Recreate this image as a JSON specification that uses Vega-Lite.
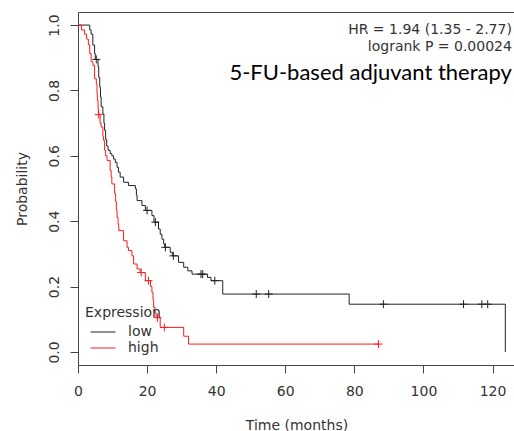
{
  "$schema": "https://vega.github.io/schema/vega-lite/v6.json",
  "width": 437,
  "height": 353,
  "autosize": {"type": "none"},
  "padding": {"left": 78, "top": 12, "right": 0, "bottom": 66},
  "background": "white",
  "config": {
    "view": {"stroke": "#444", "strokeWidth": 1},
    "font": "DejaVu Sans",
    "axis": {"grid": false, "domain": false, "labelFlush": false, "labelOverlap": false, "tickColor": "#444", "tickSize": 8, "labelFont": "DejaVu Sans", "labelFontSize": 14, "labelColor": "#333", "titleFont": "DejaVu Sans", "titleFontSize": 14, "titleFontWeight": "normal", "titleColor": "#333"}
  },
  "datasets": {
    "curves": [
      {"t": 0, "S": 1.0, "group": "low"},
      {"t": 3.4, "S": 0.985, "group": "low"},
      {"t": 3.8, "S": 0.972, "group": "low"},
      {"t": 4.3, "S": 0.939, "group": "low"},
      {"t": 4.8, "S": 0.913, "group": "low"},
      {"t": 5.0, "S": 0.895, "group": "low"},
      {"t": 5.8, "S": 0.872, "group": "low"},
      {"t": 6.0, "S": 0.84, "group": "low"},
      {"t": 6.3, "S": 0.81, "group": "low"},
      {"t": 6.5, "S": 0.78, "group": "low"},
      {"t": 6.7, "S": 0.75, "group": "low"},
      {"t": 7.2, "S": 0.728, "group": "low"},
      {"t": 7.5, "S": 0.70, "group": "low"},
      {"t": 7.7, "S": 0.678, "group": "low"},
      {"t": 8.0, "S": 0.65, "group": "low"},
      {"t": 8.3, "S": 0.63, "group": "low"},
      {"t": 8.7, "S": 0.617, "group": "low"},
      {"t": 9.3, "S": 0.607, "group": "low"},
      {"t": 9.8, "S": 0.60, "group": "low"},
      {"t": 10.3, "S": 0.59, "group": "low"},
      {"t": 10.8, "S": 0.58, "group": "low"},
      {"t": 11.3, "S": 0.565, "group": "low"},
      {"t": 11.7, "S": 0.55, "group": "low"},
      {"t": 12.2, "S": 0.535, "group": "low"},
      {"t": 13.2, "S": 0.519, "group": "low"},
      {"t": 14.6, "S": 0.509, "group": "low"},
      {"t": 16.6, "S": 0.499, "group": "low"},
      {"t": 16.9, "S": 0.48, "group": "low"},
      {"t": 17.1, "S": 0.463, "group": "low"},
      {"t": 18.5, "S": 0.448, "group": "low"},
      {"t": 19.5, "S": 0.433, "group": "low"},
      {"t": 21.4, "S": 0.417, "group": "low"},
      {"t": 22.0, "S": 0.397, "group": "low"},
      {"t": 23.3, "S": 0.376, "group": "low"},
      {"t": 23.8, "S": 0.36, "group": "low"},
      {"t": 24.3, "S": 0.345, "group": "low"},
      {"t": 24.8, "S": 0.33, "group": "low"},
      {"t": 25.1, "S": 0.32, "group": "low"},
      {"t": 26.7, "S": 0.305, "group": "low"},
      {"t": 27.3, "S": 0.294, "group": "low"},
      {"t": 29.1, "S": 0.274, "group": "low"},
      {"t": 30.6, "S": 0.259, "group": "low"},
      {"t": 31.8, "S": 0.248, "group": "low"},
      {"t": 33.0, "S": 0.238, "group": "low"},
      {"t": 37.5, "S": 0.228, "group": "low"},
      {"t": 38.5, "S": 0.218, "group": "low"},
      {"t": 41.9, "S": 0.177, "group": "low"},
      {"t": 78.5, "S": 0.146, "group": "low"},
      {"t": 123.7, "S": 0.0, "group": "low"},
      {"t": 0, "S": 1.0, "group": "high"},
      {"t": 1.0, "S": 0.985, "group": "high"},
      {"t": 1.9, "S": 0.972, "group": "high"},
      {"t": 2.5, "S": 0.957, "group": "high"},
      {"t": 3.0, "S": 0.94, "group": "high"},
      {"t": 3.4, "S": 0.913, "group": "high"},
      {"t": 3.8, "S": 0.888, "group": "high"},
      {"t": 4.3, "S": 0.877, "group": "high"},
      {"t": 4.8, "S": 0.836, "group": "high"},
      {"t": 5.3, "S": 0.821, "group": "high"},
      {"t": 5.5, "S": 0.79, "group": "high"},
      {"t": 5.6, "S": 0.77, "group": "high"},
      {"t": 5.8, "S": 0.745, "group": "high"},
      {"t": 5.9, "S": 0.726, "group": "high"},
      {"t": 6.4, "S": 0.70, "group": "high"},
      {"t": 6.7, "S": 0.688, "group": "high"},
      {"t": 7.2, "S": 0.66, "group": "high"},
      {"t": 7.4, "S": 0.647, "group": "high"},
      {"t": 7.7, "S": 0.617, "group": "high"},
      {"t": 8.0, "S": 0.60, "group": "high"},
      {"t": 8.4, "S": 0.586, "group": "high"},
      {"t": 9.3, "S": 0.555, "group": "high"},
      {"t": 9.6, "S": 0.535, "group": "high"},
      {"t": 9.8, "S": 0.514, "group": "high"},
      {"t": 10.6, "S": 0.484, "group": "high"},
      {"t": 10.9, "S": 0.46, "group": "high"},
      {"t": 11.1, "S": 0.435, "group": "high"},
      {"t": 11.3, "S": 0.412, "group": "high"},
      {"t": 11.6, "S": 0.39, "group": "high"},
      {"t": 11.8, "S": 0.371, "group": "high"},
      {"t": 13.2, "S": 0.34, "group": "high"},
      {"t": 14.2, "S": 0.32, "group": "high"},
      {"t": 14.6, "S": 0.31, "group": "high"},
      {"t": 15.6, "S": 0.294, "group": "high"},
      {"t": 16.1, "S": 0.269, "group": "high"},
      {"t": 17.1, "S": 0.254, "group": "high"},
      {"t": 18.0, "S": 0.243, "group": "high"},
      {"t": 19.5, "S": 0.218, "group": "high"},
      {"t": 21.0, "S": 0.2, "group": "high"},
      {"t": 21.4, "S": 0.182, "group": "high"},
      {"t": 21.7, "S": 0.16, "group": "high"},
      {"t": 21.9, "S": 0.136, "group": "high"},
      {"t": 22.3, "S": 0.12, "group": "high"},
      {"t": 22.6, "S": 0.105, "group": "high"},
      {"t": 23.8, "S": 0.075, "group": "high"},
      {"t": 30.6, "S": 0.048, "group": "high"},
      {"t": 32.0, "S": 0.024, "group": "high"},
      {"t": 87.0, "S": 0.024, "group": "high"}
    ],
    "censors": [
      {"t": 5.3, "S": 0.895, "group": "low"},
      {"t": 20.0, "S": 0.433, "group": "low"},
      {"t": 22.4, "S": 0.397, "group": "low"},
      {"t": 25.3, "S": 0.32, "group": "low"},
      {"t": 27.6, "S": 0.294, "group": "low"},
      {"t": 35.6, "S": 0.238, "group": "low"},
      {"t": 36.1, "S": 0.238, "group": "low"},
      {"t": 39.6, "S": 0.218, "group": "low"},
      {"t": 51.6, "S": 0.177, "group": "low"},
      {"t": 55.2, "S": 0.177, "group": "low"},
      {"t": 88.4, "S": 0.146, "group": "low"},
      {"t": 111.6, "S": 0.146, "group": "low"},
      {"t": 116.9, "S": 0.146, "group": "low"},
      {"t": 118.6, "S": 0.146, "group": "low"},
      {"t": 6.0, "S": 0.726, "group": "high"},
      {"t": 18.3, "S": 0.243, "group": "high"},
      {"t": 20.4, "S": 0.218, "group": "high"},
      {"t": 23.0, "S": 0.105, "group": "high"},
      {"t": 25.0, "S": 0.075, "group": "high"},
      {"t": 87.0, "S": 0.024, "group": "high"}
    ],
    "notes": [
      {"t": 125.6, "S": 0.985, "label": "HR = 1.94 (1.35 - 2.77)"},
      {"t": 125.6, "S": 0.933, "label": "logrank P = 0.00024"}
    ],
    "heading": [
      {"t": 125.6, "S": 0.853, "label": "5-FU-based adjuvant therapy"}
    ]
  },
  "layer": [
    {
      "data": {"name": "curves"},
      "mark": {"type": "line", "interpolate": "step-after", "strokeWidth": 1, "clip": true},
      "encoding": {
        "x": {"field": "t", "type": "quantitative", "scale": {"domain": [0, 126.5], "nice": false, "zero": false},
              "axis": {"values": [0, 20, 40, 60, 80, 100, 120], "title": "Time (months)", "labelPadding": 11, "titlePadding": 20}},
        "y": {"field": "S", "type": "quantitative", "scale": {"domain": [-0.04, 1.04], "nice": false, "zero": false},
              "axis": {"values": [0, 0.2, 0.4, 0.6, 0.8, 1.0], "format": ".1f", "title": "Probability", "labelAngle": 270, "labelAlign": "center", "labelBaseline": "bottom", "labelPadding": 9, "titlePadding": 18}},
        "color": {"field": "group", "type": "nominal",
                  "scale": {"domain": ["low", "high"], "range": ["#222222", "#ff1a1a"]},
                  "legend": {"title": "Expression", "orient": "none", "legendX": 7, "legendY": 294, "padding": 0,
                             "symbolType": "M-2,0L2,0", "symbolSize": 156, "symbolStrokeWidth": 1, "symbolOffset": 11, "labelOffset": 18,
                             "labelFont": "DejaVu Sans", "labelFontSize": 14, "labelColor": "#333", "titleFont": "DejaVu Sans", "titleFontSize": 14, "titleFontWeight": "normal", "titleColor": "#333", "titlePadding": 5, "rowPadding": 2}},
        "detail": {"field": "group"}
      }
    },
    {
      "data": {"name": "censors"},
      "mark": {"type": "point", "shape": "M-1,0L1,0M0,-1L0,1", "filled": false, "strokeWidth": 1, "size": 64, "opacity": 1},
      "encoding": {
        "x": {"field": "t", "type": "quantitative"},
        "y": {"field": "S", "type": "quantitative"},
        "color": {"field": "group", "type": "nominal"}
      }
    },
    {
      "data": {"name": "notes"},
      "mark": {"type": "text", "align": "right", "baseline": "middle", "font": "DejaVu Sans", "fontSize": 14, "color": "#333"},
      "encoding": {
        "x": {"field": "t", "type": "quantitative"},
        "y": {"field": "S", "type": "quantitative"},
        "text": {"field": "label"}
      }
    },
    {
      "data": {"name": "heading"},
      "mark": {"type": "text", "align": "right", "baseline": "middle", "font": "Lato", "fontSize": 22, "color": "#000"},
      "encoding": {
        "x": {"field": "t", "type": "quantitative"},
        "y": {"field": "S", "type": "quantitative"},
        "text": {"field": "label"}
      }
    }
  ]
}
